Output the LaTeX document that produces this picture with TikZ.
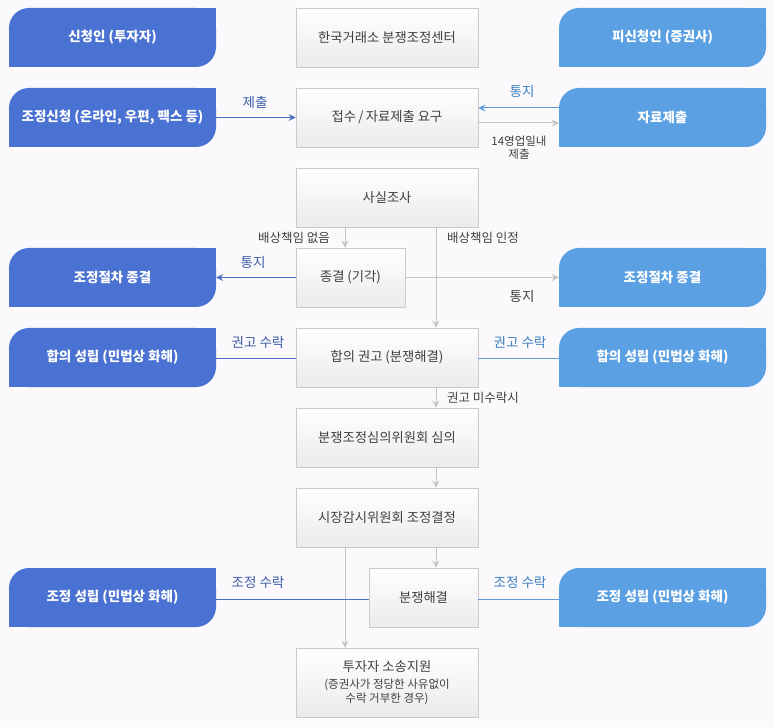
\documentclass[tikz,border=0pt]{standalone}
\usepackage{fontspec}
\setmainfont{Noto Sans CJK KR}
\usetikzlibrary{arrows.meta}
\definecolor{bg}{HTML}{FBF9FB}
\definecolor{dblue}{HTML}{4A72D2}
\definecolor{lblue}{HTML}{5AA0E2}
\definecolor{dline}{HTML}{4A6EC2}
\definecolor{lline}{HTML}{5C9BD8}
\definecolor{dlab}{HTML}{3D5DA8}
\definecolor{llab}{HTML}{3A80C2}
\definecolor{gline}{HTML}{C4C4C4}
\definecolor{gbord}{HTML}{CACACA}
\definecolor{cbot}{HTML}{EBEBEB}
\definecolor{ctext}{HTML}{3F3F3F}
\tikzset{
  bluebox/.style={minimum width=207pt, minimum height=59pt, inner sep=0pt,
    font=\bfseries\fontsize{13.5}{16}\selectfont, text=white,
    path picture={
      \fill[#1, rounded corners=20pt] (path picture bounding box.south west) rectangle (path picture bounding box.north east);
      \fill[#1] (path picture bounding box.south west) rectangle ++(20pt,20pt);
      \fill[#1] (path picture bounding box.north east) rectangle ++(-20pt,-20pt);
    }},
  cbox/.style={draw=gbord, line width=0.8pt, top color=white, bottom color=cbot,
    minimum width=182pt, minimum height=59pt, inner sep=0pt, text=ctext,
    align=center, font=\fontsize{13.3}{16}\selectfont},
  sbox/.style={cbox, minimum width=109pt},
  garrow/.style={draw=gline, line width=1pt, -{Stealth[length=7pt,width=7pt,inset=2.5pt]}},
  darrow/.style={draw=dline, line width=1pt, -{Stealth[length=7pt,width=7pt,inset=2.5pt]}},
  larrow/.style={draw=lline, line width=1pt, -{Stealth[length=7pt,width=7pt,inset=2.5pt]}},
  dplain/.style={draw=dline, line width=1pt},
  lplain/.style={draw=lline, line width=1pt},
  dlabel/.style={text=dlab, font=\fontsize{13.5}{16}\selectfont, inner sep=0pt},
  llabel/.style={text=llab, font=\fontsize{13.5}{16}\selectfont, inner sep=0pt},
  glabel/.style={text=ctext, font=\fontsize{12.5}{15}\selectfont, inner sep=0pt, align=center},
}
\begin{document}
\begin{tikzpicture}[x=1pt,y=-1pt]
\fill[bg] (0,0) rectangle (774,727);
\useasboundingbox (0,0) rectangle (774,727);

% left boxes
\node[bluebox=dblue] (L1) at (112.5,37.5) {신청인 (투자자)};
\node[bluebox=dblue] (L2) at (112.5,117.5) {조정신청 (온라인, 우편, 팩스 등)};
\node[bluebox=dblue] (L4) at (112.5,277.5) {조정절차 종결};
\node[bluebox=dblue] (L5) at (112.5,357.5) {합의 성립 (민법상 화해)};
\node[bluebox=dblue] (L8) at (112.5,597.5) {조정 성립 (민법상 화해)};

% right boxes
\node[bluebox=lblue] (R1) at (662.5,37.5) {피신청인 (증권사)};
\node[bluebox=lblue] (R2) at (662.5,117.5) {자료제출};
\node[bluebox=lblue] (R4) at (662.5,277.5) {조정절차 종결};
\node[bluebox=lblue] (R5) at (662.5,357.5) {합의 성립 (민법상 화해)};
\node[bluebox=lblue] (R8) at (662.5,597.5) {조정 성립 (민법상 화해)};

% center boxes
\node[cbox] (C1) at (387,37.5) {한국거래소 분쟁조정센터};
\node[cbox] (C2) at (387,117.5) {접수\,/\,자료제출 요구};
\node[cbox] (C3) at (387,197.5) {사실조사};
\node[sbox] (C4) at (350.5,277.5) {종결 (기각)};
\node[cbox] (C5) at (387,357.5) {합의 권고 (분쟁해결)};
\node[cbox] (C6) at (387,437.5) {분쟁조정심의위원회 심의};
\node[cbox] (C7) at (387,517.5) {시장감시위원회 조정결정};
\node[sbox] (C8) at (423.5,597.5) {분쟁해결};
\node[cbox, minimum height=69pt] (C9) at (387,682.5) {투자자 소송지원\\[1pt]{\fontsize{11.5}{14}\selectfont (증권사가 정당한 사유없이}\\[-2pt]{\fontsize{11.5}{14}\selectfont 수락 거부한 경우)}};

% connectors
\draw[darrow] (L2.east) -- (C2.west);
\node[dlabel] (t1) at (255,102) {제출};
\draw[larrow] ([yshift=9.5pt]R2.west) -- ([yshift=9.5pt]C2.east);
\node[llabel] (t2) at (522,91) {통지};
\draw[garrow] ([yshift=-5.5pt]C2.east) -- ([yshift=-5.5pt]R2.west);
\node[glabel, font=\fontsize{11.5}{14}\selectfont] (t3) at (519,148) {14영업일내\\[-1pt]제출};

\draw[garrow] ([xshift=-5.5pt]C4.north |- C3.south) -- ([xshift=-5.5pt]C4.north);
\node[glabel] (t4) at (294,238) {배상책임 없음};
\draw[garrow] ([xshift=49pt]C3.south) -- ([xshift=49pt]C5.north);
\draw[garrow] (C4.east) -- (R4.west);
\node[glabel] (t5) at (483,238) {배상책임 인정};
\draw[darrow] (C4.west) -- (L4.east);
\node[dlabel] (t6) at (253,262) {통지};
\node[glabel, font=\fontsize{13.5}{16}\selectfont] (t7) at (522,296) {통지};

\draw[dplain] ([yshift=-1.5pt]C5.west) -- ([yshift=-1.5pt]L5.east);
\node[dlabel] (t8) at (258,342) {권고 수락};
\draw[lplain] ([yshift=-1.5pt]C5.east) -- ([yshift=-1.5pt]R5.west);
\node[llabel] (t9) at (520,342) {권고 수락};

\draw[garrow] ([xshift=49pt]C5.south) -- ([xshift=49pt]C6.north);
\node[glabel] (t10) at (483,398) {권고 미수락시};
\draw[garrow] ([xshift=49pt]C6.south) -- ([xshift=49pt]C7.north);
\draw[garrow] ([xshift=49pt]C7.south) -- ([xshift=12.5pt]C8.north);
\draw[garrow] ([xshift=-42pt]C7.south) -- ([xshift=-42pt]C9.north);

\draw[dplain] ([yshift=-1.5pt]C8.west) -- ([yshift=-1.5pt]L8.east);
\node[dlabel] (t11) at (258,582) {조정 수락};
\draw[lplain] ([yshift=-1.5pt]C8.east) -- ([yshift=-1.5pt]R8.west);
\node[llabel] (t12) at (520,582) {조정 수락};
\end{tikzpicture}
\end{document}
